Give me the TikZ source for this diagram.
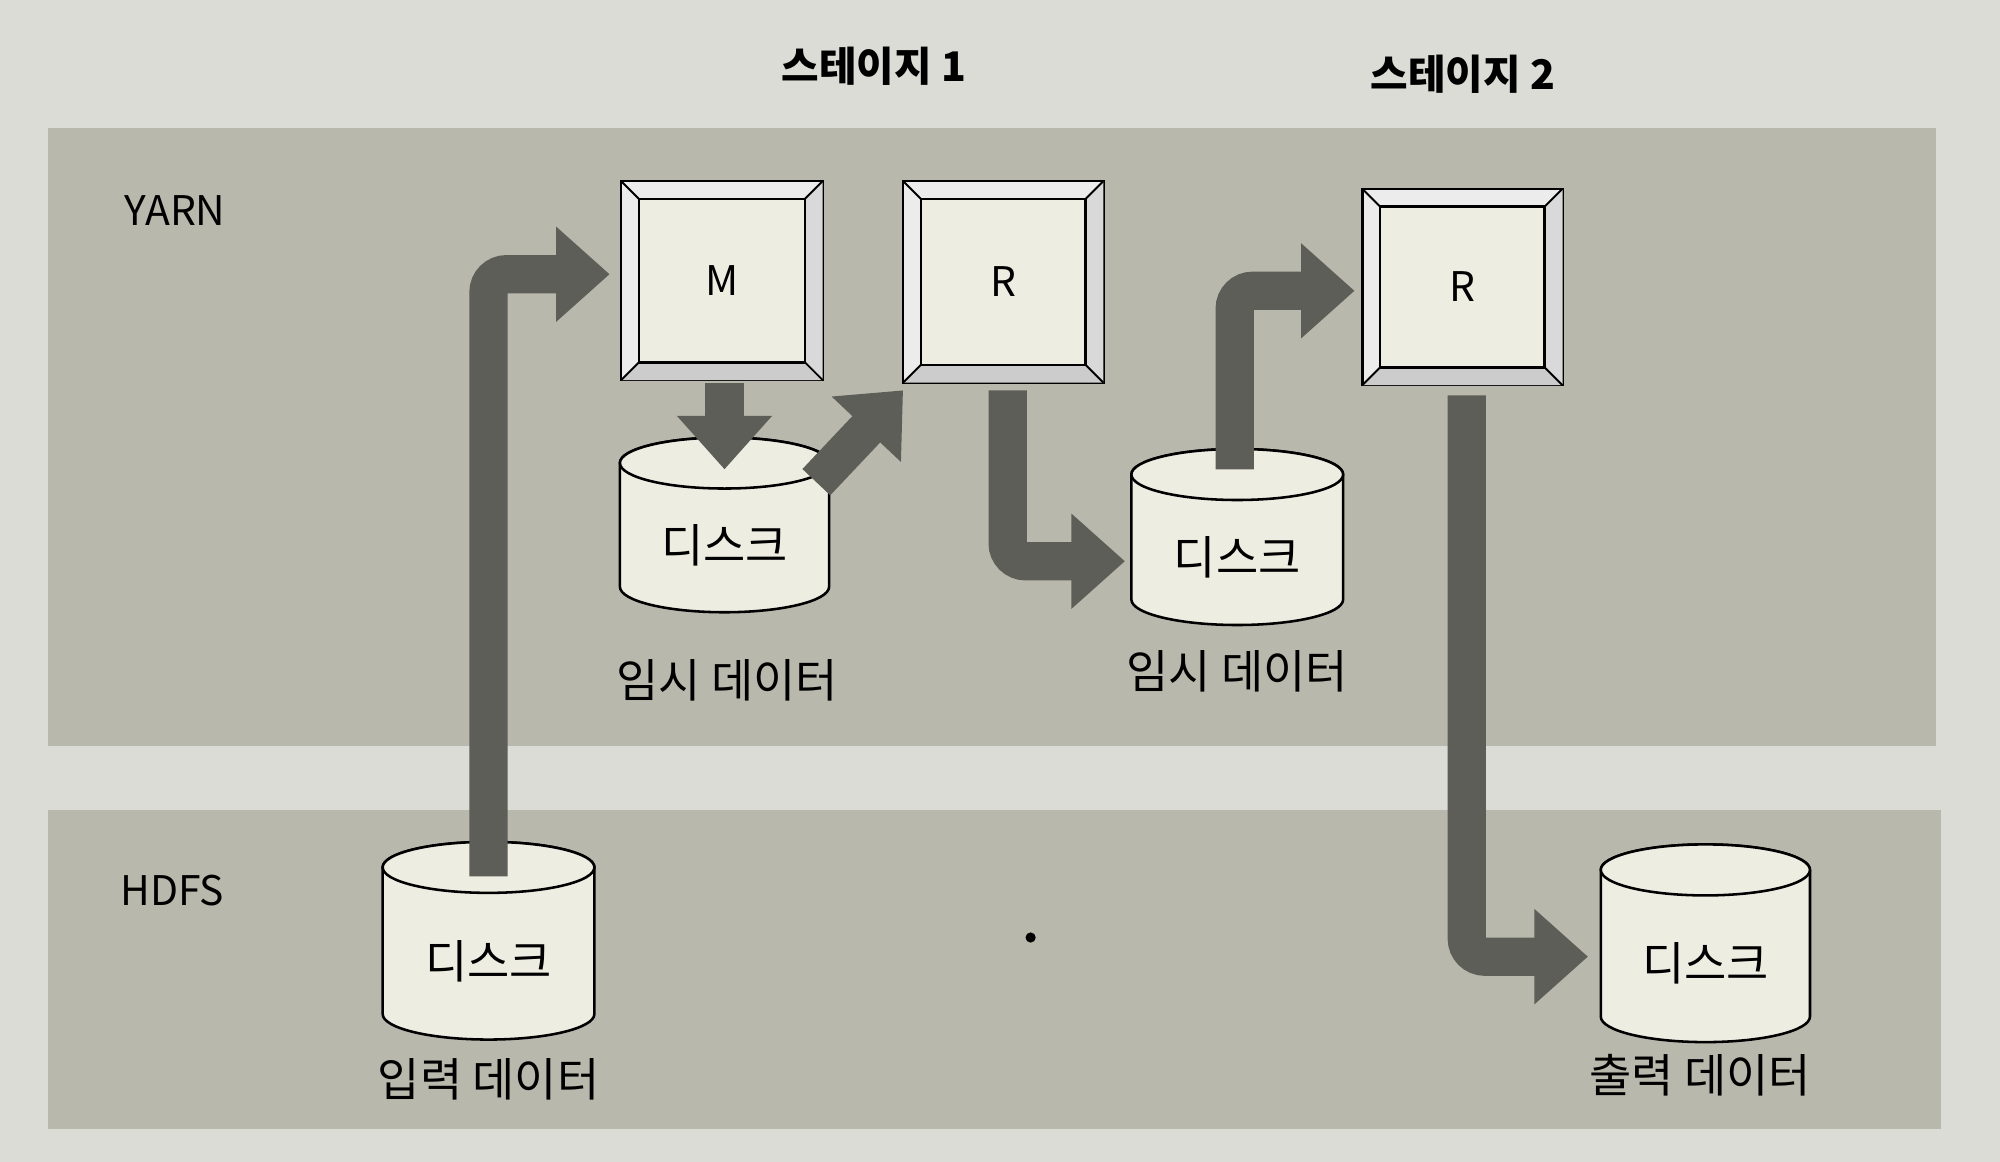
\documentclass[tikz,border=0pt]{standalone}
\usepackage{fontspec}
\setmainfont{Noto Sans CJK KR}
\usetikzlibrary{arrows.meta}
\definecolor{bgc}{HTML}{DCDCD6}
\definecolor{band}{HTML}{B8B8AC}
\definecolor{arr}{HTML}{5E5E58}
\definecolor{diskc}{HTML}{EDEDE2}
\tikzset{
 fat/.style={draw=arr,line width=30pt,rounded corners=14pt,-{Triangle[width=72pt,length=42pt]}},
 lbl/.style={font=\fontsize{32}{36}\selectfont},
 captxt/.style={font=\fontsize{36}{40}\selectfont},
 dtxt/.style={font=\fontsize{36}{40}\selectfont},
}
\newcommand{\disk}[5]{% name cx top bottom halfwidth
 \fill[diskc,draw=black,line width=2pt] (#2-#5,#3) -- (#2-#5,#4) arc[start angle=180,end angle=0,x radius=#5,y radius=20] -- (#2+#5,#3) arc[start angle=0,end angle=-180,x radius=#5,y radius=20];
 \draw[line width=2pt,fill=diskc] (#2,#3) ellipse[x radius=#5,y radius=20];
 \node[dtxt] (#1) at (#2,{(#3+#4)/2+16}) {디스크};
}
\newcommand{\bbox}[6]{% name x1 y1 x2 y2 label
 \fill[white!85!gray,draw=black,line width=2pt] (#2,#3) rectangle (#4,#5);
 \fill[white!60!gray] (#2,#5) -- (#2+14,#5-14) -- (#4-14,#5-14) -- (#4,#5) -- cycle;
 \fill[white!70!gray] (#4,#3) -- (#4-14,#3+14) -- (#4-14,#5-14) -- (#4,#5) -- cycle;
 \draw[line width=1.5pt] (#2,#3) -- (#2+14,#3+14) (#4,#3) -- (#4-14,#3+14) (#2,#5) -- (#2+14,#5-14) (#4,#5) -- (#4-14,#5-14);
 \node[draw=black,line width=2pt,fill=diskc,minimum width=#4-#2-28,minimum height=#5-#3-28,lbl,inner sep=0] (#1) at ({(#2+#4)/2},{(#3+#5)/2}) {#6};
}
\begin{document}
\begin{tikzpicture}[x=1pt,y=-1pt]
\fill[bgc] (0,0) rectangle (1568,911);
\fill[band] (38,100) rectangle (1518,585);
\fill[band] (38,635) rectangle (1522,885);
\node[font=\bfseries\fontsize{32}{36}\selectfont] (s1) at (685,52) {스테이지 1};
\node[font=\bfseries\fontsize{32}{36}\selectfont] (s2) at (1147,58) {스테이지 2};
\node[lbl] (yarn) at (137,165) {YARN};
\node[lbl] (hdfs) at (135,698) {HDFS};
\bbox{M}{487}{142}{645}{298}{M}
\bbox{R1}{708}{142}{865}{300}{R}
\bbox{R2}{1068}{148}{1225}{302}{R}
\disk{d1}{568}{363}{460}{82}
\disk{d2}{970}{372}{470}{83}
\disk{din}{383}{680}{795}{83}
\disk{dout}{1337}{682}{797}{82}
\node[captxt] (c1) at (570,533) {임시 데이터};
\node[captxt] (c2) at (970,526) {임시 데이터};
\node[captxt] (c3) at (383,846) {입력 데이터};
\node[captxt] (c4) at (1333,843) {출력 데이터};
\coordinate (a1s) at (383,687); \coordinate (a1e) at (478,215);
\draw[fat] (a1s) |- (a1e);
\coordinate (a2s) at (568,300); \coordinate (a2e) at (568,368);
\draw[fat] (a2s) -- (a2e);
\coordinate (a3s) at (640,378); \coordinate (a3e) at (708,306);
\draw[fat] (a3s) -- (a3e);
\coordinate (a4s) at (790,306); \coordinate (a4e) at (882,440);
\draw[fat] (a4s) |- (a4e);
\coordinate (a5s) at (968,368); \coordinate (a5e) at (1062,228);
\draw[fat] (a5s) |- (a5e);
\coordinate (a6s) at (1150,310); \coordinate (a6e) at (1245,750);
\draw[fat] (a6s) |- (a6e);
\fill (808,735) circle (4);
\end{tikzpicture}
\end{document}
